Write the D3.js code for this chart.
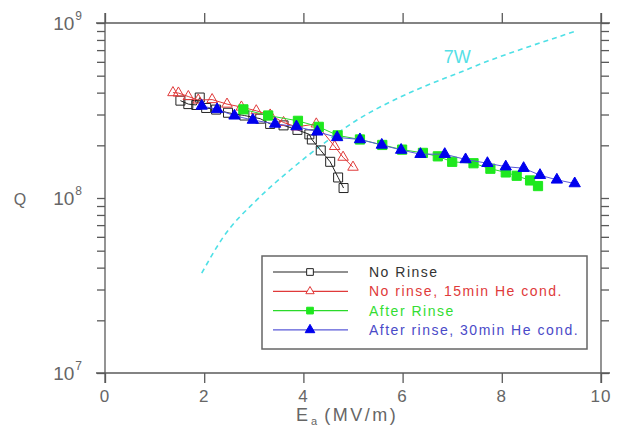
<!DOCTYPE html>
<html>
<head>
<meta charset="utf-8">
<script src="https://cdn.jsdelivr.net/npm/d3@7"></script>
<style>
  body { margin: 0; background: #fff; }
  svg { display: block; font-family: "Liberation Sans", Arial, sans-serif; }
</style>
</head>
<body>
<svg width="618" height="427"></svg>
<script>
// data: E_acc (MV/m) and Q0
const E_noRinse = [1.52, 1.68, 1.84, 1.91, 2.04, 2.24, 2.48, 2.81, 3.13, 3.33, 3.60, 3.88, 4.12, 4.17, 4.35, 4.54, 4.70, 4.81];
const Q_noRinse = [3.60e8, 3.44e8, 3.40e8, 3.75e8, 3.27e8, 3.20e8, 3.07e8, 2.96e8, 2.84e8, 2.65e8, 2.60e8, 2.45e8, 2.31e8, 2.16e8, 1.87e8, 1.61e8, 1.31e8, 1.14e8];

const E_he15 = [1.37, 1.48, 1.68, 1.88, 2.16, 2.46, 2.75, 3.05, 3.33, 3.60, 3.86, 4.26, 4.63, 4.80, 5.00];
const Q_he15 = [4.00e8, 3.98e8, 3.80e8, 3.63e8, 3.65e8, 3.44e8, 3.31e8, 3.15e8, 2.98e8, 2.70e8, 2.55e8, 2.65e8, 1.97e8, 1.71e8, 1.50e8];

const E_rinse = [2.79, 3.29, 3.89, 4.31, 4.69, 5.14, 5.59, 5.99, 6.41, 6.71, 7.00, 7.43, 7.77, 8.08, 8.30, 8.57, 8.73];
const Q_rinse = [3.21e8, 2.96e8, 2.76e8, 2.55e8, 2.28e8, 2.16e8, 2.01e8, 1.89e8, 1.81e8, 1.73e8, 1.61e8, 1.58e8, 1.47e8, 1.40e8, 1.34e8, 1.26e8, 1.17e8];

const E_he30 = [1.95, 2.26, 2.61, 2.98, 3.43, 3.86, 4.28, 4.68, 5.14, 5.58, 5.97, 6.36, 6.85, 7.27, 7.71, 8.08, 8.44, 8.77, 9.11, 9.47];
const Q_he30 = [3.36e8, 3.21e8, 2.95e8, 2.79e8, 2.65e8, 2.56e8, 2.39e8, 2.22e8, 2.16e8, 2.01e8, 1.88e8, 1.78e8, 1.78e8, 1.66e8, 1.58e8, 1.51e8, 1.48e8, 1.35e8, 1.27e8, 1.21e8];

// constant power (7 W) curve
const E_7W = [1.95, 2.39, 3.06, 3.74, 4.41, 5.08, 5.76, 6.43, 7.11, 7.78, 8.45, 9.46];
const Q_7W = [3.72e7, 6.01e7, 9.75e7, 1.45e8, 2.05e8, 2.79e8, 3.55e8, 4.33e8, 5.16e8, 6.15e8, 7.17e8, 8.92e8];

const seriesNames = ["No Rinse", "No rinse, 15min He cond.", "After Rinse", "After rinse, 30min He cond."];
const xTicks = [0, 2, 4, 6, 8, 10];
const yMajor = [7, 8, 9];

const svg = d3.select("svg");
const frameColor = "#5a5a5a";
const labelColor = "#666";

const x = d3.scaleLinear().domain([0, 10]).range([105, 601]);
const y = d3.scaleLog().domain([1e7, 1e9]).range([373, 23]);

const zip = (es, qs) => es.map((e, i) => ({ e: e, q: qs[i] }));

const series = [
  { name: seriesNames[0], pts: zip(E_noRinse, Q_noRinse), line: "#222", text: "#333", sym: d3.symbolSquare, size: 81, fill: "none", stroke: "#222", lsize: 45 },
  { name: seriesNames[1], pts: zip(E_he15, Q_he15), line: "#e03a3a", text: "#e03a3a", sym: d3.symbolTriangle, size: 48, fill: "none", stroke: "#e03a3a", lsize: 30 },
  { name: seriesNames[2], pts: zip(E_rinse, Q_rinse), line: "#2ada2a", text: "#33dd33", sym: d3.symbolSquare, size: 85, fill: "#1ee81e", stroke: "#1ee81e", lsize: 45 },
  { name: seriesNames[3], pts: zip(E_he30, Q_he30), line: "#5a5ad8", text: "#4a4ac8", sym: d3.symbolTriangle, size: 55, fill: "#0000ee", stroke: "#0000ee", lsize: 40 }
];

// minor + major ticks for the log axis
let yTickVals = [];
for (let d = 7; d < 9; d++) {
  for (let m = 1; m < 10; m++) yTickVals.push(m * Math.pow(10, d));
}
yTickVals.push(1e9);

const axes = svg.append("g");

axes.append("g")
  .attr("transform", `translate(0,${y(1e7)})`)
  .call(d3.axisBottom(x).tickValues(xTicks).tickSize(10).tickFormat(""));
axes.append("g")
  .attr("transform", `translate(0,${y(1e9)})`)
  .call(d3.axisTop(x).tickValues(xTicks).tickSize(10).tickFormat(""));
axes.append("g")
  .attr("transform", `translate(${x(0)},0)`)
  .call(d3.axisLeft(y).tickValues(yTickVals).tickSize(8).tickFormat(""));
axes.append("g")
  .attr("transform", `translate(${x(10)},0)`)
  .call(d3.axisRight(y).tickValues(yTickVals).tickSize(8).tickFormat(""));

axes.selectAll(".domain").remove();

// frame, extended past the corners like the original
const ext = 9;
axes.append("line")
  .attr("x1", x(0) - ext).attr("x2", x(10) + ext)
  .attr("y1", y(1e7)).attr("y2", y(1e7));
axes.append("line")
  .attr("x1", x(0) - ext).attr("x2", x(10) + ext)
  .attr("y1", y(1e9)).attr("y2", y(1e9));
axes.append("line")
  .attr("x1", x(0)).attr("x2", x(0))
  .attr("y1", y(1e9) - 10).attr("y2", y(1e7) + 10);
axes.append("line")
  .attr("x1", x(10)).attr("x2", x(10))
  .attr("y1", y(1e9) - 10).attr("y2", y(1e7) + 10);
axes.selectAll("line").attr("stroke", frameColor).attr("stroke-width", 1.3);

// x tick labels
svg.append("g")
  .selectAll("text")
  .data(xTicks)
  .join("text")
    .attr("x", d => x(d))
    .attr("y", y(1e7) + 29)
    .attr("text-anchor", "middle")
    .attr("font-size", 17)
    .attr("letter-spacing", 1)
    .attr("fill", labelColor)
    .text(d => d);

// y tick labels 10^n
const yl = svg.append("g")
  .selectAll("text")
  .data(yMajor)
  .join("text")
    .attr("x", x(0) - 23)
    .attr("y", d => y(Math.pow(10, d)) + 7)
    .attr("text-anchor", "end")
    .attr("font-size", 19)
    .attr("fill", labelColor);
yl.append("tspan").text("10");
yl.append("tspan")
  .attr("dy", -10)
  .attr("dx", 1)
  .attr("font-size", 12)
  .text(d => d);

// axis titles
svg.append("text")
  .attr("x", 20)
  .attr("y", 205)
  .attr("text-anchor", "middle")
  .attr("font-size", 16)
  .attr("fill", labelColor)
  .text("Q");

const xt = svg.append("text")
  .attr("x", 296)
  .attr("y", 421)
  .attr("font-size", 18)
  .attr("fill", labelColor);
xt.append("tspan").text("E");
xt.append("tspan").attr("dy", 4).attr("dx", 3).attr("font-size", 11).text("a");
xt.append("tspan").attr("dy", -4).attr("dx", 7).attr("letter-spacing", 2.5).text("(MV/m)");

// 7 W curve
const line = d3.line()
  .x(d => x(d.e))
  .y(d => y(d.q));

svg.append("path")
  .datum(zip(E_7W, Q_7W))
  .attr("fill", "none")
  .attr("stroke", "#4ee0e6")
  .attr("stroke-width", 1.6)
  .attr("stroke-dasharray", "5,4")
  .attr("d", line.curve(d3.curveMonotoneX));

svg.append("text")
  .attr("x", x(7.1))
  .attr("y", 63)
  .attr("text-anchor", "middle")
  .attr("font-size", 18)
  .attr("fill", "#55e0e6")
  .text("7W");

// data series
const dataLine = d3.line().x(d => x(d.e)).y(d => y(d.q));

const sg = svg.append("g")
  .selectAll("g")
  .data(series)
  .join("g");

sg.append("path")
  .attr("fill", "none")
  .attr("stroke", d => d.line)
  .attr("stroke-width", 1)
  .attr("d", d => dataLine(d.pts));

sg.each(function(s) {
  d3.select(this).selectAll("path.pt")
    .data(s.pts)
    .join("path")
      .attr("class", "pt")
      .attr("transform", d => `translate(${x(d.e)},${y(d.q)})`)
      .attr("d", d3.symbol(s.sym, s.size))
      .attr("fill", s.fill)
      .attr("stroke", s.stroke)
      .attr("stroke-width", 1);
});

// legend
const legend = svg.append("g").attr("transform", "translate(262,256)");
legend.append("rect")
  .attr("width", 325)
  .attr("height", 93)
  .attr("fill", "#fff")
  .attr("stroke", "#666")
  .attr("stroke-width", 1.5);

const row = legend.selectAll("g")
  .data(series)
  .join("g")
    .attr("transform", (d, i) => `translate(0,${16 + i * 19.3})`);

row.append("line")
  .attr("x1", 11).attr("x2", 86)
  .attr("stroke", d => d.line)
  .attr("stroke-width", 1.2);
row.append("path")
  .attr("transform", "translate(48,0)")
  .attr("d", d => d3.symbol(d.sym, d.lsize)())
  .attr("fill", d => d.fill === "none" ? "#fff" : d.fill)
  .attr("stroke", d => d.stroke);
row.append("text")
  .attr("x", 107)
  .attr("y", 5)
  .attr("font-size", 14)
  .attr("letter-spacing", 1.5)
  .attr("fill", d => d.text)
  .text(d => d.name);
</script>
</body>
</html>
